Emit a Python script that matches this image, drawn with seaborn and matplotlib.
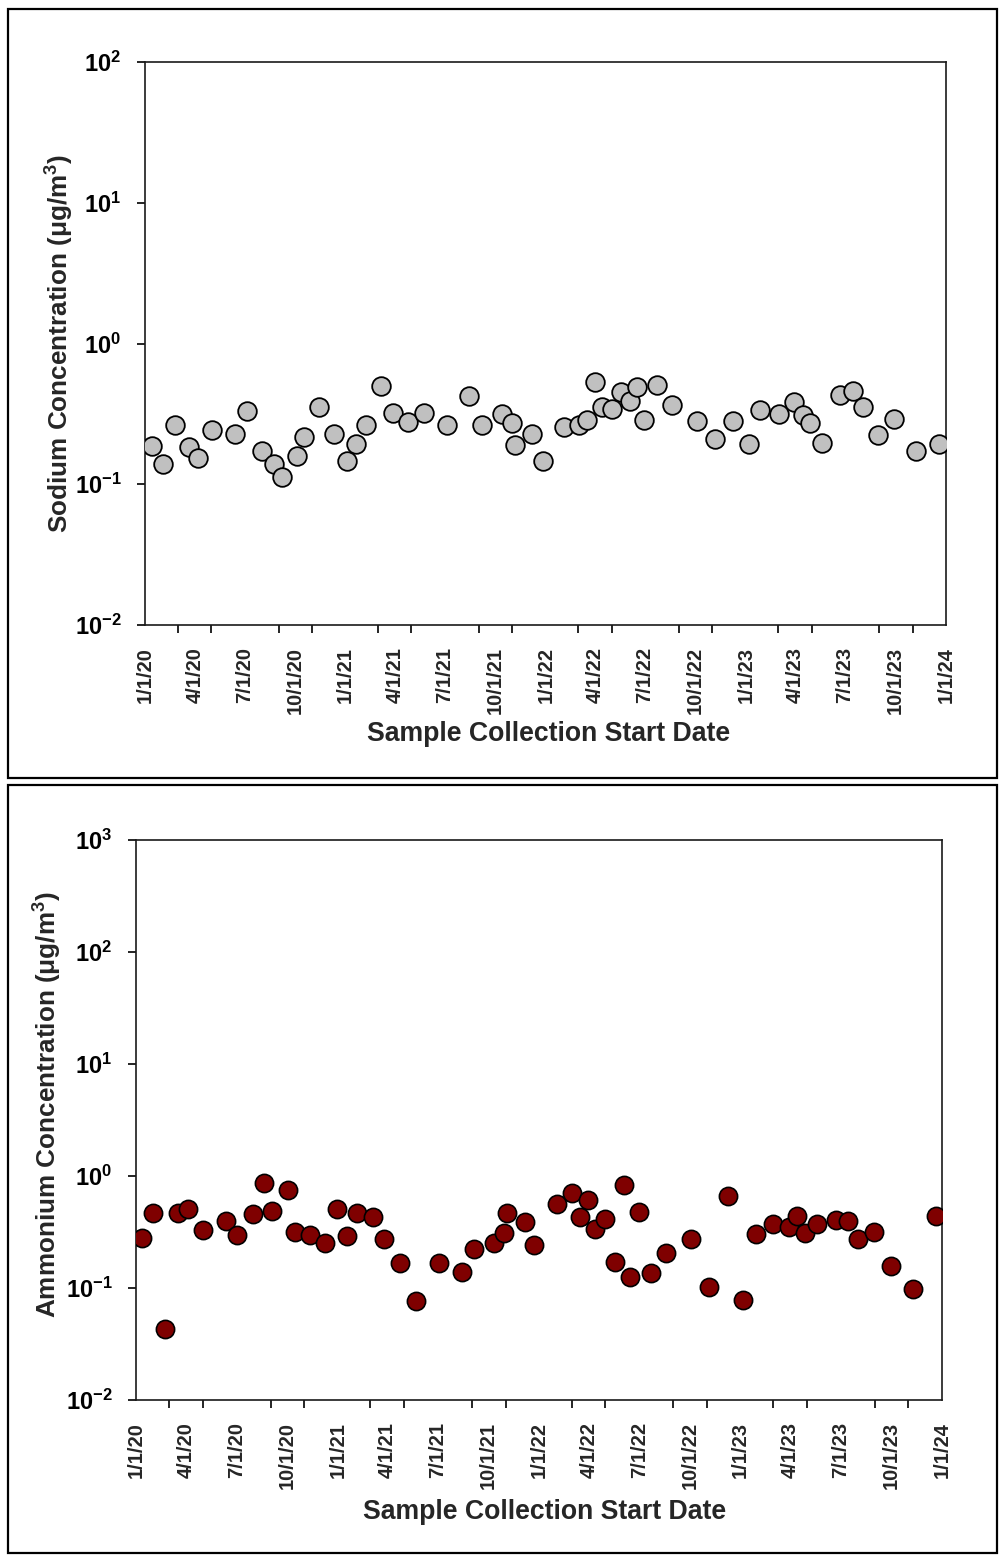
import numpy as np
import pandas as pd
import matplotlib
matplotlib.use("Agg")
import matplotlib.pyplot as plt
import matplotlib.dates as mdates
from matplotlib.patches import Rectangle
import seaborn as sns

# ---------------- data ----------------
sodium_dates = [
    "2020-01-13", "2020-02-03", "2020-02-25", "2020-03-21", "2020-04-06", "2020-05-03",
    "2020-06-14", "2020-07-05", "2020-08-02", "2020-08-23", "2020-09-06", "2020-10-04",
    "2020-10-17", "2020-11-14", "2020-12-10", "2021-01-03", "2021-01-19", "2021-02-07",
    "2021-03-06", "2021-03-28", "2021-04-25", "2021-05-23", "2021-07-04", "2021-08-14",
    "2021-09-07", "2021-10-13", "2021-10-31", "2021-11-06", "2021-12-07", "2021-12-27",
    "2022-02-03", "2022-03-03", "2022-03-18", "2022-04-01", "2022-04-13", "2022-05-01",
    "2022-05-19", "2022-06-04", "2022-06-17", "2022-06-30", "2022-07-23", "2022-08-19",
    "2022-10-04", "2022-11-05", "2022-12-09", "2023-01-07", "2023-01-27", "2023-03-02",
    "2023-03-29", "2023-04-15", "2023-04-28", "2023-05-20", "2023-06-21", "2023-07-15",
    "2023-08-03", "2023-08-30", "2023-09-29", "2023-11-08", "2023-12-20",
]
sodium = [
    0.187, 0.139, 0.265, 0.183, 0.153, 0.244,
    0.226, 0.331, 0.173, 0.139, 0.112, 0.159,
    0.217, 0.356, 0.228, 0.146, 0.194, 0.262,
    0.499, 0.319, 0.275, 0.322, 0.264, 0.424,
    0.265, 0.314, 0.271, 0.190, 0.226, 0.147,
    0.254, 0.264, 0.286, 0.536, 0.352, 0.344,
    0.450, 0.390, 0.489, 0.286, 0.505, 0.364,
    0.283, 0.210, 0.281, 0.192, 0.337, 0.314,
    0.386, 0.310, 0.272, 0.196, 0.428, 0.462,
    0.352, 0.224, 0.292, 0.173, 0.193,
]

ammonium_dates = [
    "2020-01-11", "2020-02-01", "2020-02-22", "2020-03-18", "2020-04-05", "2020-05-01",
    "2020-06-12", "2020-07-02", "2020-07-31", "2020-08-20", "2020-09-04", "2020-10-02",
    "2020-10-15", "2020-11-12", "2020-12-09", "2020-12-31", "2021-01-17", "2021-02-05",
    "2021-03-05", "2021-03-26", "2021-04-24", "2021-05-22", "2021-07-04", "2021-08-14",
    "2021-09-05", "2021-10-11", "2021-10-29", "2021-11-04", "2021-12-06", "2021-12-23",
    "2022-02-02", "2022-03-02", "2022-03-16", "2022-03-31", "2022-04-12", "2022-04-30",
    "2022-05-19", "2022-06-03", "2022-06-15", "2022-06-30", "2022-07-22", "2022-08-18",
    "2022-10-03", "2022-11-05", "2022-12-09", "2023-01-06", "2023-01-28", "2023-03-01",
    "2023-03-29", "2023-04-14", "2023-04-28", "2023-05-20", "2023-06-22", "2023-07-14",
    "2023-08-02", "2023-08-31", "2023-09-30", "2023-11-09", "2023-12-21",
]
ammonium = [
    0.281, 0.468, 0.0433, 0.468, 0.511, 0.332,
    0.396, 0.299, 0.455, 0.866, 0.490, 0.745,
    0.316, 0.299, 0.251, 0.511, 0.290, 0.464,
    0.433, 0.272, 0.168, 0.0771, 0.168, 0.138,
    0.224, 0.254, 0.310, 0.470, 0.388, 0.242,
    0.562, 0.705, 0.428, 0.611, 0.334, 0.413,
    0.170, 0.832, 0.125, 0.477, 0.135, 0.204,
    0.272, 0.103, 0.667, 0.0782, 0.305, 0.373,
    0.353, 0.442, 0.312, 0.373, 0.405, 0.400,
    0.272, 0.314, 0.158, 0.098, 0.437,
]

quarter_dates = [
    "2020-01-01", "2020-04-01", "2020-07-01", "2020-10-01",
    "2021-01-01", "2021-04-01", "2021-07-01", "2021-10-01",
    "2022-01-01", "2022-04-01", "2022-07-01", "2022-10-01",
    "2023-01-01", "2023-04-01", "2023-07-01", "2023-10-01",
    "2024-01-01",
]
quarter_labels = [
    "1/1/20", "4/1/20", "7/1/20", "10/1/20",
    "1/1/21", "4/1/21", "7/1/21", "10/1/21",
    "1/1/22", "4/1/22", "7/1/22", "10/1/22",
    "1/1/23", "4/1/23", "7/1/23", "10/1/23",
    "1/1/24",
]
tick_mark_dates = [
    "2020-01-01", "2020-03-01", "2020-05-01", "2020-09-01", "2020-11-01",
    "2021-03-01", "2021-05-01", "2021-09-01", "2021-11-01",
    "2022-03-01", "2022-05-01", "2022-09-01", "2022-11-01",
    "2023-03-01", "2023-05-01", "2023-09-01", "2023-11-01",
]

sodium_yticks = [1e-2, 1e-1, 1e0, 1e1, 1e2]
sodium_ylabels = [r"$\mathbf{10^{-2}}$", r"$\mathbf{10^{-1}}$", r"$\mathbf{10^{0}}$",
                  r"$\mathbf{10^{1}}$", r"$\mathbf{10^{2}}$"]
ammonium_yticks = [1e-2, 1e-1, 1e0, 1e1, 1e2, 1e3]
ammonium_ylabels = [r"$\mathbf{10^{-2}}$", r"$\mathbf{10^{-1}}$", r"$\mathbf{10^{0}}$",
                    r"$\mathbf{10^{1}}$", r"$\mathbf{10^{2}}$", r"$\mathbf{10^{3}}$"]

# ---------------- style ----------------
sns.set_style("ticks")
plt.rcParams["font.family"] = ["Liberation Sans", "DejaVu Sans"]
plt.rcParams["mathtext.fontset"] = "custom"
plt.rcParams["mathtext.rm"] = "Liberation Sans:bold"
plt.rcParams["mathtext.bf"] = "Liberation Sans:bold"
plt.rcParams["mathtext.it"] = "Liberation Sans:bold"
plt.rcParams["axes.linewidth"] = 1.2

W, H = 1000, 1557
fig = plt.figure(figsize=(W / 100, H / 100), dpi=100)


def rect(l, t, r, b):
    return [l / W, 1 - b / H, (r - l) / W, (b - t) / H]


# panel borders
for (l, t, r, b) in [(8, 9, 997, 778), (8, 785, 997, 1553)]:
    fig.add_artist(Rectangle((l / W, 1 - b / H), (r - l) / W, (b - t) / H,
                             transform=fig.transFigure, fill=False,
                             lw=1.6, ec="black"))


def draw(ax, dates, values, face, yticks, ylabels, s, lw):
    df = pd.DataFrame({"date": pd.to_datetime(dates), "value": values})
    sns.scatterplot(data=df, x="date", y="value", ax=ax, s=s, color=face,
                    edgecolor="black", linewidth=lw, zorder=3, legend=False)
    ax.set_yscale("log")
    ax.set_ylim(yticks[0], yticks[-1])
    ax.set_xlim(mdates.date2num(pd.Timestamp("2020-01-01")),
                mdates.date2num(pd.Timestamp("2024-01-01")))
    ax.set_yticks(yticks, labels=ylabels)
    ax.yaxis.set_minor_locator(matplotlib.ticker.NullLocator())
    ax.tick_params(axis="y", which="major", direction="out", length=6,
                   width=1.2, labelsize=17, pad=11, left=True, colors="black")
    qn = [mdates.date2num(pd.Timestamp(d)) for d in quarter_dates]
    ax.set_xticks(qn, labels=quarter_labels, rotation=90, fontweight="bold",
                  fontsize=14.5)
    mn = [mdates.date2num(pd.Timestamp(d)) for d in tick_mark_dates]
    ax.set_xticks(mn, minor=True)
    ax.tick_params(axis="x", which="major", length=0, pad=16, bottom=True)
    ax.tick_params(axis="x", which="minor", direction="out", length=6,
                   width=1.2, bottom=True, color="black")
    ax.set_xlabel("")
    ax.set_ylabel("")
    for sp in ax.spines.values():
        sp.set_color("#1a1a1a")
        sp.set_linewidth(1.2)
        sp.set_visible(True)


ax1 = fig.add_axes(rect(145, 62, 946, 625))
draw(ax1, sodium_dates, sodium, "#c0c0c0", sodium_yticks, sodium_ylabels, 180, 1.3)

ax2 = fig.add_axes(rect(136, 840, 942, 1400))
draw(ax2, ammonium_dates, ammonium, "#7f0000", ammonium_yticks, ammonium_ylabels, 172, 1.2)

# axis titles
fig.text(0.060, 1 - 344 / H, r"Sodium Concentration (μg/m$^3$)", rotation=90,
         ha="center", va="center", fontsize=18.8, fontweight="bold")
fig.text(0.549, 1 - 734 / H, "Sample Collection Start Date",
         ha="center", va="center", fontsize=19.2, fontweight="bold")
fig.text(0.048, 1 - 1105 / H, r"Ammonium Concentration (μg/m$^3$)", rotation=90,
         ha="center", va="center", fontsize=18.8, fontweight="bold")
fig.text(0.545, 1 - 1512 / H, "Sample Collection Start Date",
         ha="center", va="center", fontsize=19.2, fontweight="bold")

fig.savefig("out.png", dpi=100)
